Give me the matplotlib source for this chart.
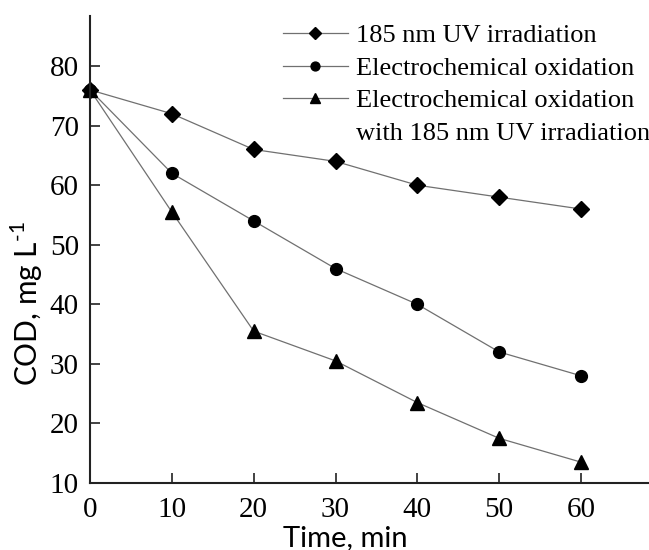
import matplotlib.pyplot as plt
from matplotlib.lines import Line2D

time = [0, 10, 20, 30, 40, 50, 60]
uv = [76, 72, 66, 64, 60, 58, 56]
eo = [76, 62, 54, 46, 40, 32, 28]
eo_uv = [76, 55.5, 35.5, 30.5, 23.5, 17.5, 13.5]

labels = ['185 nm UV irradiation',
          'Electrochemical oxidation',
          'Electrochemical oxidation',
          'with 185 nm UV irradiation']

plt.rcParams['mathtext.fontset'] = 'custom'
plt.rcParams['mathtext.rm'] = 'Lato'

fig = plt.figure(figsize=(6.49, 5.5), dpi=100)
ax = fig.add_axes([0.1387, 0.1218, 0.8613, 0.849])

line_kw = dict(color='#707070', linewidth=0.9, markerfacecolor='black',
               markeredgecolor='black', clip_on=False)
h1, = ax.plot(time, uv, marker='D', markersize=8, **line_kw)
h2, = ax.plot(time, eo, marker='o', markersize=8.5, **line_kw)
h3, = ax.plot(time, eo_uv, marker='^', markersize=9.5, **line_kw)
# second line of the third legend entry, no symbol
blank = Line2D([], [], linestyle='none')

ax.set_xlim(0, 68.3)
ax.set_ylim(10, 88.4)
ax.set_xticks(range(0, 61, 10))
ax.set_yticks(range(10, 81, 10))

for s in ['top', 'right']:
    ax.spines[s].set_visible(False)
for s in ['left', 'bottom']:
    ax.spines[s].set_linewidth(1.5)
    ax.spines[s].set_color('#222222')

ax.tick_params(direction='in', length=7, width=1.2, colors='#222222',
               labelsize=21)
ax.tick_params(axis='x', pad=10)
ax.tick_params(axis='y', pad=8)
for t in ax.get_xticklabels() + ax.get_yticklabels():
    t.set_family('Liberation Serif')
    t.set_color('black')

ax.set_xlabel('Time, min', family='Lato', fontsize=21)
ax.xaxis.set_label_coords(0.456, -0.09)
ax.set_ylabel('COD, mg L$^{\\mathregular{\\text{-}1}}$', family='Lato', fontsize=21.5)
ax.yaxis.set_label_coords(-0.08, 0.385)

fig.legend([h1, h2, h3, blank], labels,
           loc='upper left', bbox_to_anchor=(283 / 649, 1 - 24 / 550),
           frameon=False, borderaxespad=0, borderpad=0,
           prop={'family': 'Liberation Serif', 'size': 19},
           handlelength=2.45, handletextpad=0.3, markerscale=0.75,
           labelspacing=0.34)

fig.savefig('out.png', dpi=100)
